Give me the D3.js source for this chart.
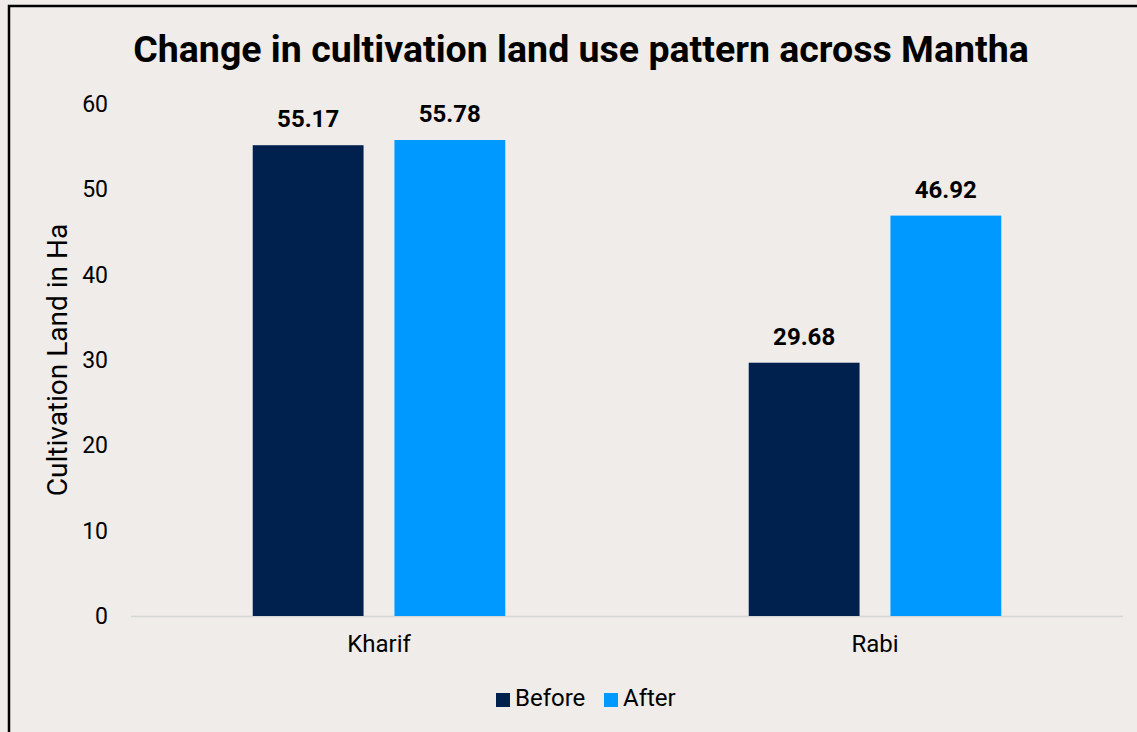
<!DOCTYPE html>
<html><head><meta charset="utf-8">
<script src="https://cdn.jsdelivr.net/npm/d3@7"></script>
<style>html,body{margin:0;padding:0;background:#EFECE9;}svg{display:block;font-family:Roboto,sans-serif;}</style>
</head><body>
<svg id="c" width="1137" height="732"></svg>
<script>
const categories = ["Kharif", "Rabi"];
const seriesNames = ["Before", "After"];
const before = [55.17, 29.68];
const after = [55.78, 46.92];
const yTicks = [0, 10, 20, 30, 40, 50, 60];
const colors = ["#00204E", "#0099FF"];

const svg = d3.select("#c");
svg.append("rect").attr("x", 9).attr("y", 6).attr("width", 1140).attr("height", 740)
  .attr("fill", "#EFECE9").attr("stroke", "#000").attr("stroke-width", 2.5);

const pLeft = 131, pRight = 1123, pTop = 104, pBottom = 616;
const x = d3.scaleBand().domain(categories).range([pLeft, pRight]);
const y = d3.scaleLinear().domain([0, 60]).range([pBottom, pTop]);
const xs = d3.scaleBand().domain(seriesNames).range([0, x.bandwidth()]).paddingInner(0.218).paddingOuter(0.859);

svg.append("text").attr("x", 581).attr("y", 62).attr("text-anchor", "middle")
  .attr("font-size", 37.5).attr("font-weight", 700).attr("fill", "#000")
  .text("Change in cultivation land use pattern across Mantha");

const yAxis = svg.append("g").attr("transform", `translate(${pLeft},0)`)
  .call(d3.axisLeft(y).tickValues(yTicks).tickSize(0).tickPadding(23));
yAxis.select(".domain").remove();
yAxis.selectAll("text").attr("font-size", 23).attr("fill", "#000").attr("font-family", "Roboto");

svg.append("line").attr("x1", pLeft).attr("x2", pRight).attr("y1", pBottom + 0.5).attr("y2", pBottom + 0.5)
  .attr("stroke", "#D6D6D6").attr("stroke-width", 1.5);

const xAxis = svg.append("g").attr("transform", `translate(0,${pBottom})`)
  .call(d3.axisBottom(x).tickSize(0).tickPadding(19));
xAxis.select(".domain").remove();
xAxis.selectAll("text").attr("font-size", 24).attr("fill", "#000").attr("font-family", "Roboto");

svg.append("text").attr("transform", "translate(67,360) rotate(-90)").attr("text-anchor", "middle")
  .attr("font-size", 28).attr("fill", "#000").text("Cultivation Land in Ha");

const data = categories.map((c, i) => ({ c, vals: [before[i], after[i]] }));
const g = svg.selectAll("g.cat").data(data).join("g").attr("class", "cat")
  .attr("transform", d => `translate(${x(d.c)},0)`);
g.selectAll("rect").data(d => d.vals.map((v, j) => ({ s: seriesNames[j], v, j }))).join("rect")
  .attr("x", d => xs(d.s)).attr("width", xs.bandwidth())
  .attr("y", d => y(d.v)).attr("height", d => pBottom - y(d.v))
  .attr("fill", d => colors[d.j]);
g.selectAll("text.val").data(d => d.vals.map((v, j) => ({ s: seriesNames[j], v, j }))).join("text")
  .attr("class", "val")
  .attr("x", d => xs(d.s) + xs.bandwidth() / 2).attr("y", d => y(d.v) - 18)
  .attr("text-anchor", "middle").attr("font-size", 24).attr("font-weight", 700).attr("fill", "#000")
  .text(d => d.v.toFixed(2));

const legendX = [496, 604];
const lg = svg.selectAll("g.leg").data(seriesNames).join("g").attr("class", "leg")
  .attr("transform", (d, i) => `translate(${legendX[i]},693)`);
lg.append("rect").attr("width", 14).attr("height", 14).attr("fill", (d, i) => colors[i]);
lg.append("text").attr("x", 19).attr("y", 13).attr("font-size", 24).attr("fill", "#000").text(d => d);
</script>
</body></html>
